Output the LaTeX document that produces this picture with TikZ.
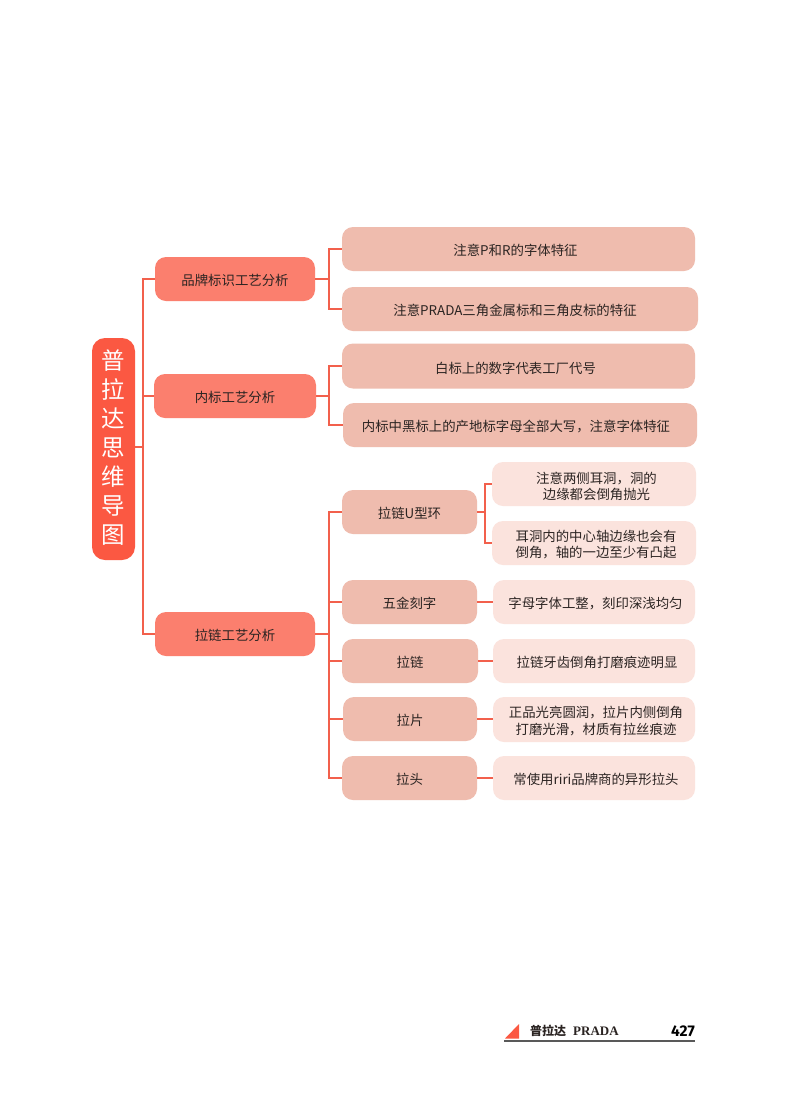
\documentclass[tikz,border=0pt]{standalone}
\usepackage{fontspec}
\setmainfont{Noto Sans CJK SC}
\newfontfamily\footcjk{Noto Sans CJK SC}
\newfontfamily\footlatin{Liberation Serif}
\newfontfamily\footnum{Fira Sans}
\definecolor{rootc}{HTML}{FB5842}
\definecolor{lonec}{HTML}{FB7F6E}
\definecolor{ltwoc}{HTML}{EFBCAE}
\definecolor{lthreec}{HTML}{FBE3DD}
\definecolor{linec}{HTML}{F2604C}
\definecolor{txt}{HTML}{2B2422}
% text placed dx right and dy below the centre of its box
\newcommand{\tl}[3]{\makebox[0pt]{\hspace*{\dimexpr 2\dimexpr #1pt\relax\relax}\raisebox{\dimexpr -#2pt\relax}[0pt][0pt]{\begin{tabular}{@{}c@{}}#3\end{tabular}}}}
\tikzset{
  x=1pt,y=-1pt,
  boxbase/.style={rounded corners=11pt,inner sep=0pt,text=txt,font=\fontsize{13.4}{16.5}\selectfont},
  rootbox/.style={boxbase,rounded corners=13pt,fill=rootc,text=white,font=\fontsize{23.5}{29}\selectfont,minimum width=43pt,minimum height=222pt},
  lone/.style={boxbase,fill=lonec,minimum height=44pt},
  ltwo/.style={boxbase,fill=ltwoc,minimum height=44pt},
  lthree/.style={boxbase,fill=lthreec,minimum height=44pt},
  conn/.style={draw=linec,line width=1.5pt},
}
\begin{document}
\begin{tikzpicture}
\useasboundingbox (0,0) rectangle (800,1093);
\fill[white] (0,0) rectangle (800,1093);
% root
\node[rootbox] (root) at (113.5,449) {\tl{0}{8}{普\\拉\\达\\思\\维\\导\\图}};
% level 1
\node[lone,minimum width=160pt] (a) at (235,279) {\tl{0}{7}{品牌标识工艺分析}};
\node[lone,minimum width=162pt] (b) at (235,396) {\tl{0}{7}{内标工艺分析}};
\node[lone,minimum width=160pt] (c) at (235,634) {\tl{0}{7}{拉链工艺分析}};
% level 2
\node[ltwo,minimum width=353pt] (a1) at (518.5,249) {\tl{-3}{7}{注意P和R的字体特征}};
\node[ltwo,minimum width=356pt] (a2) at (520,309) {\tl{-5}{7}{注意PRADA三角金属标和三角皮标的特征}};
\node[ltwo,minimum width=353pt,minimum height=45pt] (b1) at (518.5,366) {\tl{-3}{7.5}{白标上的数字代表工厂代号}};
\node[ltwo,minimum width=354pt] (b2) at (520,425) {\tl{-4}{7}{内标中黑标上的产地标字母全部大写，注意字体特征}};
\node[ltwo,minimum width=135pt] (c1) at (409.5,512) {\tl{0}{7}{拉链U型环}};
\node[ltwo,minimum width=135pt] (c2) at (409.5,602) {\tl{0}{7}{五金刻字}};
\node[ltwo,minimum width=136pt] (c3) at (410,661) {\tl{0}{7}{拉链}};
\node[ltwo,minimum width=134pt] (c4) at (410,719) {\tl{0}{7}{拉片}};
\node[ltwo,minimum width=135pt] (c5) at (409.5,778) {\tl{0}{7}{拉头}};
% level 3
\node[lthree,minimum width=204pt] (d1) at (594,484) {\tl{2.5}{8}{注意两侧耳洞，洞的\\边缘都会倒角抛光}};
\node[lthree,minimum width=204pt] (d2) at (594,543) {\tl{2}{7}{耳洞内的中心轴边缘也会有\\倒角，轴的一边至少有凸起}};
\node[lthree,minimum width=202pt] (e) at (594,602) {\tl{1.5}{7}{字母字体工整，刻印深浅均匀}};
\node[lthree,minimum width=202pt] (f) at (594,661) {\tl{3}{7}{拉链牙齿倒角打磨痕迹明显}};
\node[lthree,minimum width=202pt,minimum height=45pt] (g) at (594,719.5) {\tl{2}{7}{正品光亮圆润，拉片内侧倒角\\打磨光滑，材质有拉丝痕迹}};
\node[lthree,minimum width=202pt] (h) at (594,778) {\tl{2}{7}{常使用riri品牌商的异形拉头}};
% connectors
\coordinate (t0) at (143,447);
\coordinate (ta) at (329,279);
\coordinate (tb) at (329,396);
\coordinate (tc) at (329,634);
\coordinate (td) at (485,512);
\draw[conn] (root.east |- t0) -- (t0);
\draw[conn] (t0) |- (a.west);
\draw[conn] (t0) |- (b.west);
\draw[conn] (t0) |- (c.west);
\draw[conn] (a.east) -- (ta);
\draw[conn] (ta) |- (a1.west);
\draw[conn] (ta) |- (a2.west);
\draw[conn] (b.east) -- (tb);
\draw[conn] (tb) |- (b1.west);
\draw[conn] (tb) |- (b2.west);
\draw[conn] (c.east) -- (tc);
\draw[conn] (tc) |- (c1.west);
\draw[conn] (tc) |- (c2.west);
\draw[conn] (tc) |- (c3.west);
\draw[conn] (tc) |- (c4.west);
\draw[conn] (tc) |- (c5.west);
\draw[conn] (c1.east) -- (td);
\draw[conn] (td) |- (d1.west);
\draw[conn] (td) |- (d2.west);
\draw[conn] (c2.east) -- (e.west);
\draw[conn] (c3.east) -- (f.west);
\draw[conn] (c4.east) -- (c4.east -| g.west);
\draw[conn] (c5.east) -- (h.west);
% footer
\fill[rootc] (505,1038.5) -- (519,1024) -- (519,1038.5) -- cycle;
\coordinate (fl) at (504,1041);
\coordinate (fr) at (695,1041);
\draw[draw=black!65,line width=1.2pt] (fl) -- (fr);
\node[anchor=west,inner sep=0pt,text=txt,font=\footcjk\bfseries\fontsize{12}{14}\selectfont] (f1) at (530,1031) {普拉达};
\node[anchor=west,inner sep=0pt,text=txt,font=\footlatin\bfseries\fontsize{13}{14}\selectfont] (f2) at (573,1031) {PRADA};
\node[anchor=east,inner sep=0pt,text=black,font=\footnum\bfseries\fontsize{15.5}{16}\selectfont] (f3) at (695,1031) {427};
\end{tikzpicture}
\end{document}
